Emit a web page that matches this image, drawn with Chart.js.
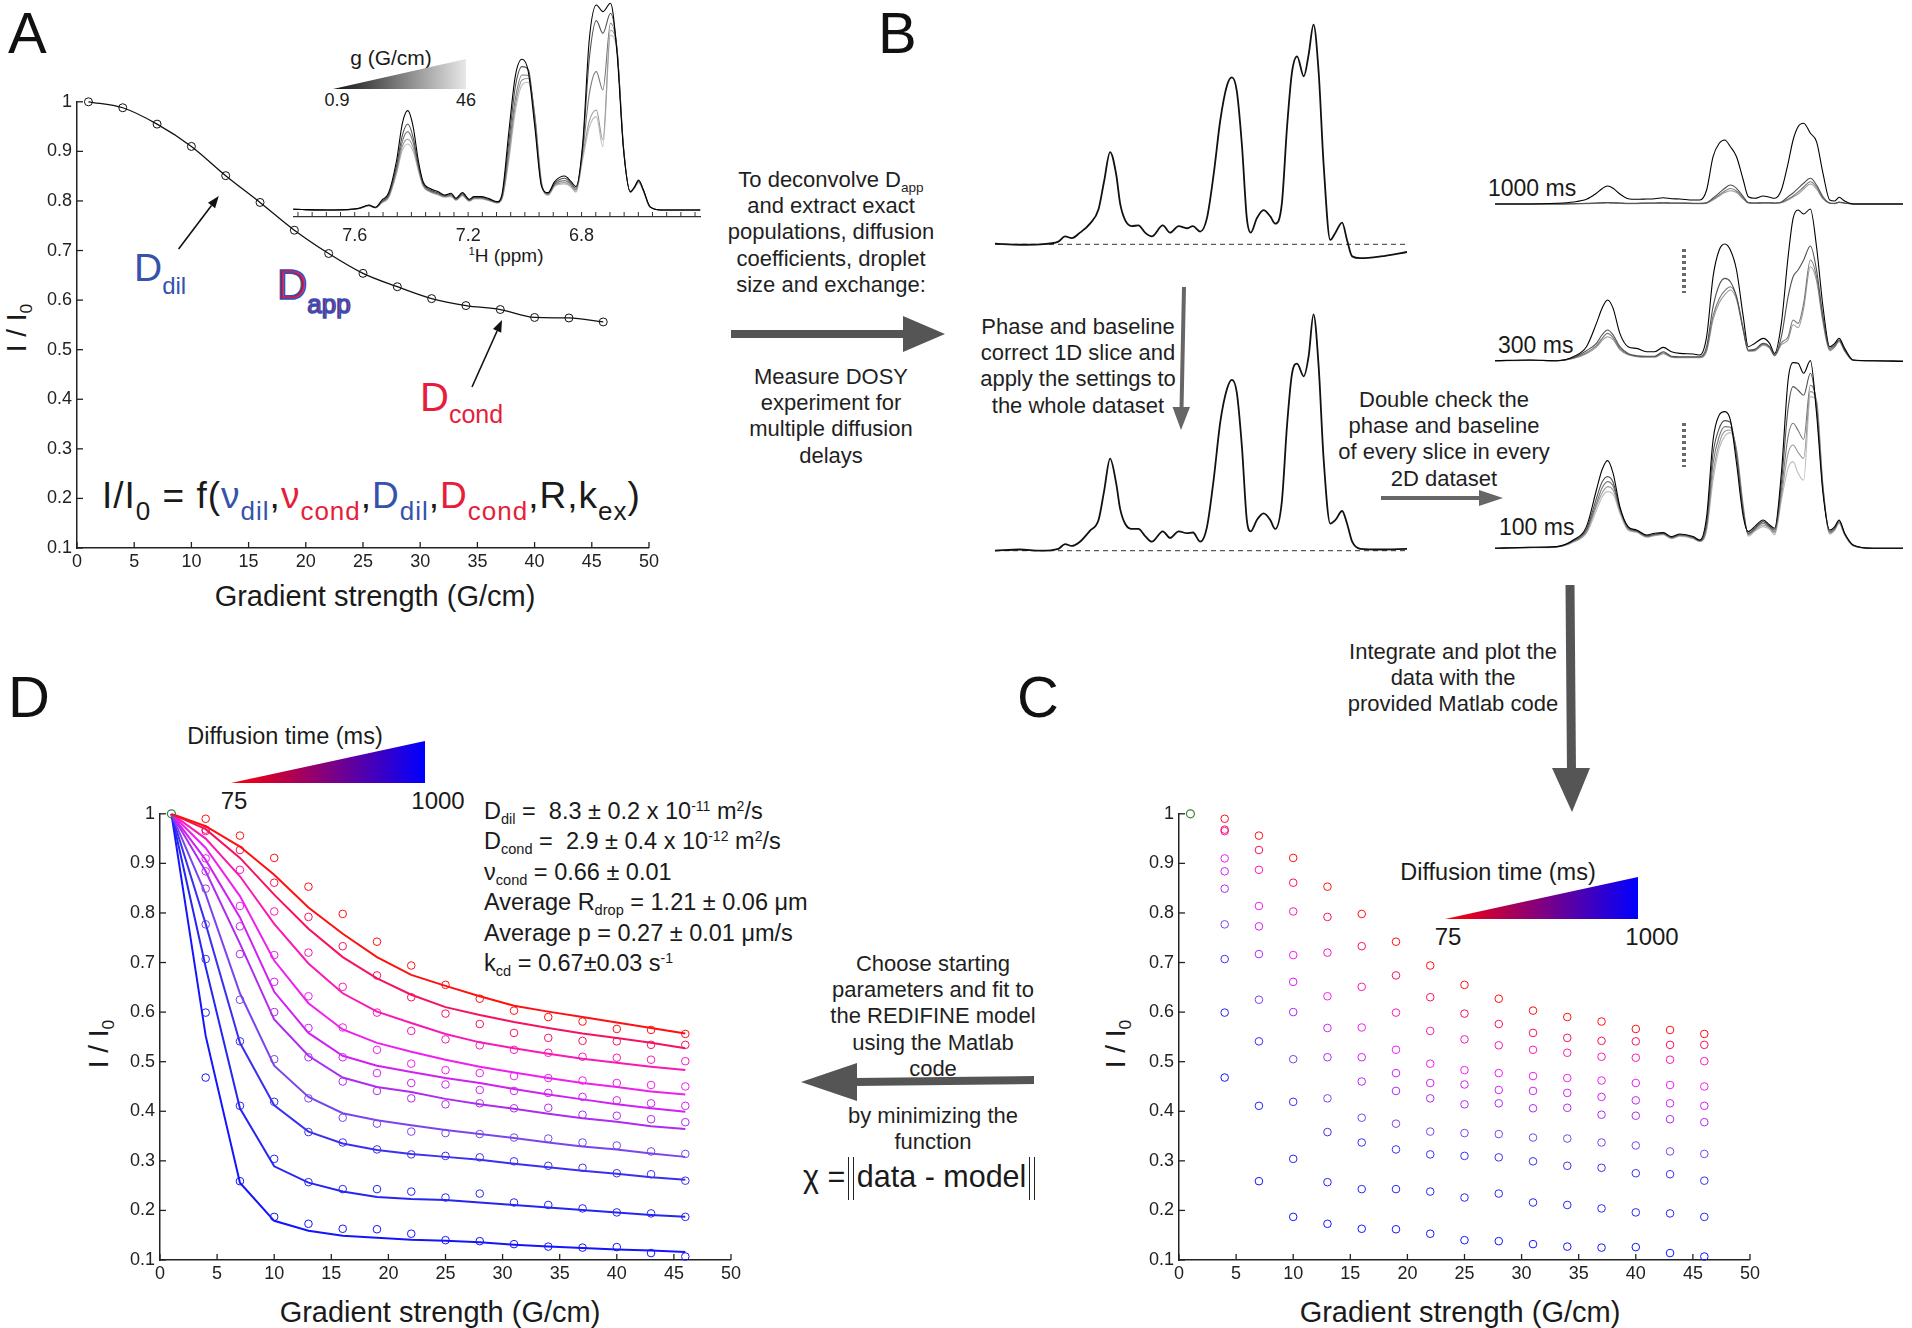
<!DOCTYPE html>
<html>
<head>
<meta charset="utf-8">
<title>DOSY workflow</title>
<script src="https://cdn.jsdelivr.net/npm/chart.js@4.4.1/dist/chart.umd.min.js"></script>
<style>
  html, body { margin: 0; padding: 0; background: #fff; }
  #page { position: relative; width: 1912px; height: 1328px; overflow: hidden;
          font-family: 'Liberation Sans', Arial, sans-serif; color: #1a1a1a; }
  #page canvas { position: absolute; }
  .t { position: absolute; white-space: nowrap; line-height: 1; }
  .c { transform: translate(-50%, -50%); }
  .rot { transform: translate(-50%, -50%) rotate(-90deg); }
  .blk { position: absolute; width: 320px; margin-left: -160px; text-align: center;
         font-size: 22px; line-height: 26.2px; white-space: nowrap; color: #1f1f1f; }
  .letter { position: absolute; font-size: 58px; line-height: 1; color: #111; }
  .sb { font-size: 0.62em; position: relative; top: 0.33em; line-height: 0; }
  .sp { font-size: 0.6em; position: relative; top: -0.6em; line-height: 0; }
  .eq { font-size: 26px; position: relative; top: 12px; line-height: 0; }
  .blue { color: #3552ad; }
  .red { color: #e61e3c; }
  .tri { position: absolute; clip-path: polygon(0 100%, 100% 0, 100% 100%); }
  .norm1 { display: inline-block; border-left: 1.6px solid #222; border-right: 1.6px solid #222; padding: 0 3.5px; margin-left: 3px; }
  .norm2 { display: inline-block; border-left: 1.6px solid #222; border-right: 1.6px solid #222;
           padding: 4px 3px 8px 3px; line-height: 1; }
  #arrows { position: absolute; left: 0; top: 0; }
</style>
</head>
<body>
<div id="page">
  <!-- panel letters -->
  <div class="letter" style="left:8px;top:4px">A</div>
  <div class="letter" style="left:878px;top:4px">B</div>
  <div class="letter" style="left:1017px;top:668px">C</div>
  <div class="letter" style="left:8px;top:668px">D</div>

  <!-- panel A text -->
  <div class="t rot" style="left:17px;top:328px;font-size:28px">I / I<span class="sb">0</span></div>
  <div class="t c" style="left:375px;top:596px;font-size:29px">Gradient strength (G/cm)</div>
  <div class="t blue" style="left:134px;top:248px;font-size:39px">D<span style="font-size:24px;position:relative;top:13px">dil</span></div>
  <div class="t" style="left:277px;top:264px;font-size:42px;color:#d61f3f;-webkit-text-stroke:1.6px #3b4db2">D<span style="font-size:26px;position:relative;top:14px">app</span></div>
  <div class="t red" style="left:420px;top:377px;font-size:40px">D<span style="font-size:25px;position:relative;top:12px">cond</span></div>
  <div class="t" style="left:102px;top:477px;font-size:37px;letter-spacing:1px">I/I<span class="eq">0</span> = f(<span class="blue">&nu;<span class="eq">dil</span></span>,<span class="red">&nu;<span class="eq">cond</span></span>,<span class="blue">D<span class="eq">dil</span></span>,<span class="red">D<span class="eq">cond</span></span>,R,k<span class="eq">ex</span>)</div>

  <!-- panel A inset text -->
  <div class="t c" style="left:391px;top:57px;font-size:21px">g (G/cm)</div>
  <div class="tri" style="left:333px;top:59px;width:133px;height:30px;background:linear-gradient(to right,#111,#e8e8e8)"></div>
  <div class="t c" style="left:337px;top:100px;font-size:18px">0.9</div>
  <div class="t c" style="left:466px;top:100px;font-size:18px">46</div>
  <div class="t c" style="left:506px;top:255px;font-size:19px"><span class="sp">1</span>H (ppm)</div>

  <!-- workflow text -->
  <div class="blk" style="left:831px;top:167px">To deconvolve D<span class="sb">app</span><br>and extract exact<br>populations, diffusion<br>coefficients, droplet<br>size and exchange:</div>
  <div class="blk" style="left:831px;top:364px">Measure DOSY<br>experiment for<br>multiple diffusion<br>delays</div>
  <div class="blk" style="left:1078px;top:314px">Phase and baseline<br>correct 1D slice and<br>apply the settings to<br>the whole dataset</div>
  <div class="blk" style="left:1444px;top:387px">Double check the<br>phase and baseline<br>of every slice in every<br>2D dataset</div>
  <div class="blk" style="left:1453px;top:639px">Integrate and plot the<br>data with the<br>provided Matlab code</div>
  <div class="blk" style="left:933px;top:951px">Choose starting<br>parameters and fit to<br>the REDIFINE model<br>using the Matlab<br>code</div>
  <div class="blk" style="left:933px;top:1103px">by minimizing the<br>function</div>
  <div class="t" style="left:803px;top:1157px;font-size:30.5px">&chi; =<span class="norm1"><span class="norm2">data - model</span></span></div>

  <div class="t" style="left:1488px;top:177px;font-size:23px">1000 ms</div>
  <div class="t" style="left:1498px;top:334px;font-size:23px">300 ms</div>
  <div class="t" style="left:1499px;top:516px;font-size:23px">100 ms</div>

  <!-- panel D text -->
  <div class="t c" style="left:285px;top:737px;font-size:23.5px">Diffusion time (ms)</div>
  <div class="tri" style="left:231px;top:741px;width:194px;height:42px;background:linear-gradient(to right,#ff0000,#800080,#0000ff)"></div>
  <div class="t c" style="left:234px;top:801px;font-size:24px">75</div>
  <div class="t c" style="left:438px;top:801px;font-size:24px">1000</div>
  <div class="t" style="left:484px;top:796px;font-size:23.5px;line-height:30.4px">
    D<span class="sb">dil</span> = &nbsp;8.3 &plusmn; 0.2 x 10<span class="sp">-11</span> m<span class="sp">2</span>/s<br>
    D<span class="sb">cond</span> = &nbsp;2.9 &plusmn; 0.4 x 10<span class="sp">-12</span> m<span class="sp">2</span>/s<br>
    &nu;<span class="sb">cond</span> = 0.66 &plusmn; 0.01<br>
    Average R<span class="sb">drop</span> = 1.21 &plusmn; 0.06 &mu;m<br>
    Average p = 0.27 &plusmn; 0.01 &mu;m/s<br>
    k<span class="sb">cd</span> = 0.67&plusmn;0.03 s<span class="sp">-1</span>
  </div>
  <div class="t rot" style="left:99px;top:1044px;font-size:28px">I / I<span class="sb">0</span></div>
  <div class="t c" style="left:440px;top:1312px;font-size:29px">Gradient strength (G/cm)</div>

  <!-- panel C text -->
  <div class="t c" style="left:1498px;top:873px;font-size:23.5px">Diffusion time (ms)</div>
  <div class="tri" style="left:1445px;top:877px;width:193px;height:42px;background:linear-gradient(to right,#ff0000,#800080,#0000ff)"></div>
  <div class="t c" style="left:1448px;top:937px;font-size:24px">75</div>
  <div class="t c" style="left:1652px;top:937px;font-size:24px">1000</div>
  <div class="t rot" style="left:1116px;top:1044px;font-size:28px">I / I<span class="sb">0</span></div>
  <div class="t c" style="left:1460px;top:1312px;font-size:29px">Gradient strength (G/cm)</div>

  <svg id="arrows" width="1912" height="1328">
    <g stroke="#111" stroke-width="1.6" fill="#111">
      <line x1="178.6" y1="249" x2="211.5" y2="205.6"/>
      <polygon points="218.8,196 215.1,208.3 208,202.8" stroke="none"/>
      <line x1="472" y1="387" x2="497.1" y2="331"/>
      <polygon points="502,320 501.2,332.8 493,329.1" stroke="none"/>
    </g>
    <g fill="#555" stroke="none">
      <rect x="731" y="330" width="175" height="8"/>
      <polygon points="903,316 945,334 903,352"/>
      <polygon points="1565.5,585 1574.5,585 1576,772 1567,772"/>
      <polygon points="1552,768 1590,768 1572,812"/>
      <polygon points="1034,1076 1034,1084 854,1086 854,1078"/>
      <polygon points="857,1063 857,1101 801,1082"/>
    </g>
    <g stroke="#666" stroke-width="4" fill="#666">
      <line x1="1184" y1="287" x2="1181.5" y2="409"/>
      <polygon points="1172.5,407 1190,407 1181,430" stroke="none"/>
      <line x1="1381" y1="498" x2="1481" y2="498"/>
      <polygon points="1479,490 1503,498 1479,506" stroke="none"/>
    </g>
    <g stroke="#6a6a6a" stroke-width="4" stroke-dasharray="3 3">
      <line x1="1684" y1="249" x2="1684" y2="293"/>
      <line x1="1684" y1="423" x2="1684" y2="467"/>
    </g>
  </svg>
</div>

<script>
// ---- decay data (I/I0 vs gradient strength, G/cm) ----
const gradient = [1, 4, 7, 10, 13, 16, 19, 22, 25, 28, 31, 34, 37, 40, 43, 46];
const decayA = [1.0, 0.988, 0.955, 0.910, 0.851, 0.797, 0.741, 0.694, 0.654, 0.627, 0.603, 0.589, 0.581, 0.565, 0.564, 0.556];

// measured points for the 10 diffusion times (75 ms ... 1000 ms), at gradient 4..46
const obs1 = [0.990, 0.956, 0.911, 0.853, 0.798, 0.742, 0.694, 0.655, 0.627, 0.603, 0.590, 0.581, 0.566, 0.564, 0.556];
const obs2 = [0.968, 0.927, 0.861, 0.792, 0.733, 0.674, 0.630, 0.597, 0.576, 0.558, 0.548, 0.542, 0.541, 0.534, 0.534];
const obs3 = [0.965, 0.887, 0.803, 0.720, 0.651, 0.599, 0.562, 0.545, 0.533, 0.524, 0.518, 0.510, 0.508, 0.504, 0.501];
const obs4 = [0.910, 0.814, 0.715, 0.632, 0.569, 0.524, 0.496, 0.483, 0.477, 0.471, 0.467, 0.462, 0.457, 0.453, 0.450];
const obs5 = [0.884, 0.773, 0.661, 0.568, 0.509, 0.477, 0.457, 0.454, 0.443, 0.441, 0.437, 0.429, 0.422, 0.416, 0.411];
const obs6 = [0.849, 0.717, 0.600, 0.509, 0.460, 0.441, 0.426, 0.414, 0.416, 0.406, 0.407, 0.393, 0.391, 0.384, 0.378];
const obs7 = [0.777, 0.625, 0.505, 0.426, 0.387, 0.375, 0.359, 0.356, 0.354, 0.347, 0.345, 0.337, 0.331, 0.319, 0.314];
const obs8 = [0.707, 0.541, 0.419, 0.358, 0.337, 0.323, 0.313, 0.310, 0.307, 0.299, 0.290, 0.286, 0.275, 0.273, 0.260];
const obs9 = [0.599, 0.411, 0.304, 0.257, 0.243, 0.243, 0.238, 0.226, 0.234, 0.216, 0.211, 0.204, 0.196, 0.194, 0.187];
const obs10 = [0.468, 0.259, 0.187, 0.173, 0.163, 0.162, 0.153, 0.140, 0.138, 0.132, 0.127, 0.125, 0.126, 0.114, 0.107];

// model fit curves (gradient 1..46)
const fit1 = [1, 0.975, 0.934, 0.877, 0.811, 0.758, 0.711, 0.675, 0.653, 0.632, 0.613, 0.601, 0.590, 0.579, 0.568, 0.557];
const fit2 = [1, 0.969, 0.911, 0.837, 0.768, 0.711, 0.668, 0.635, 0.610, 0.594, 0.580, 0.568, 0.557, 0.548, 0.538, 0.527];
const fit3 = [1, 0.950, 0.874, 0.778, 0.698, 0.638, 0.601, 0.578, 0.556, 0.539, 0.527, 0.516, 0.506, 0.498, 0.490, 0.483];
const fit4 = [1, 0.931, 0.834, 0.704, 0.618, 0.565, 0.538, 0.520, 0.504, 0.490, 0.478, 0.467, 0.457, 0.449, 0.440, 0.434];
const fit5 = [1, 0.907, 0.791, 0.641, 0.558, 0.512, 0.492, 0.479, 0.467, 0.457, 0.445, 0.434, 0.424, 0.414, 0.406, 0.399];
const fit6 = [1, 0.884, 0.738, 0.585, 0.512, 0.468, 0.449, 0.439, 0.425, 0.414, 0.405, 0.395, 0.386, 0.379, 0.370, 0.364];
const fit7 = [1, 0.838, 0.638, 0.492, 0.429, 0.396, 0.382, 0.372, 0.362, 0.354, 0.346, 0.337, 0.329, 0.323, 0.315, 0.308];
const fit8 = [1, 0.778, 0.538, 0.412, 0.359, 0.335, 0.322, 0.314, 0.308, 0.302, 0.294, 0.287, 0.280, 0.274, 0.267, 0.262];
const fit9 = [1, 0.691, 0.406, 0.289, 0.256, 0.238, 0.227, 0.223, 0.221, 0.216, 0.211, 0.206, 0.201, 0.196, 0.191, 0.187];
const fit10 = [1, 0.552, 0.256, 0.179, 0.159, 0.149, 0.145, 0.141, 0.139, 0.136, 0.131, 0.127, 0.124, 0.121, 0.119, 0.116];

const observed = [obs1, obs2, obs3, obs4, obs5, obs6, obs7, obs8, obs9, obs10];
const fitted = [fit1, fit2, fit3, fit4, fit5, fit6, fit7, fit8, fit9, fit10];
const seriesColors = ['#ff1010', '#f5135d', '#f81ab4', '#ef1ff0', '#d021f5', '#ae2bf0', '#7a46ec', '#3b30f0', '#2626f2', '#1414ff'];

// axis ticks
const xTickVals = [0, 5, 10, 15, 20, 25, 30, 35, 40, 45, 50];
const xTickLabels = ['0', '5', '10', '15', '20', '25', '30', '35', '40', '45', '50'];
const yTickVals = [0.1, 0.2, 0.3, 0.4, 0.5, 0.6, 0.7, 0.8, 0.9, 1];
const yTickLabels = ['0.1', '0.2', '0.3', '0.4', '0.5', '0.6', '0.7', '0.8', '0.9', '1'];
const ppmLabelled = [7.6, 7.2, 6.8];

// ---- 1H spectra (ppm, intensity) ----
// inset of panel A: 5 gradient steps, 0.9 -> 46 G/cm
const ppmInset = [7.817, 7.678, 7.585, 7.550, 7.527, 7.504, 7.481, 7.452, 7.432, 7.413, 7.394, 7.376, 7.359, 7.336, 7.307, 7.283, 7.260, 7.243, 7.220, 7.196, 7.179, 7.156, 7.127, 7.098, 7.080, 7.057, 7.034, 7.010, 6.988, 6.965, 6.941, 6.918, 6.895, 6.860, 6.837, 6.820, 6.796, 6.773, 6.748, 6.725, 6.698, 6.675, 6.652, 6.628, 6.613, 6.599, 6.582, 6.559, 6.518, 6.381];
const inset1 = [0, -0.7, 1, 4.3, 2, 9.3, 16, 49.3, 86, 98.7, 82.7, 49.3, 27.7, 21, 17.7, 14.3, 16, 11, 16.7, 10, 12.7, 12.7, 10.7, 7.7, 16, 76, 132.7, 150, 137.7, 82.7, 22.7, 16.7, 27.7, 33.3, 27.7, 22.7, 66, 169.3, 204.3, 197.7, 206, 156, 59.3, 17.7, 22.7, 29.3, 19.3, 2.7, -0.7, -0.7];
const inset2 = [0, -0.7, 0.9, 4, 1.8, 8, 14, 44, 74, 85.3, 72, 45, 26, 19.5, 16.5, 13.5, 15, 10.3, 15.5, 9.3, 12, 12, 10, 7.2, 14, 66, 122, 142.7, 140, 88, 24, 16, 26, 31, 26, 21, 62, 150, 188.7, 176, 196, 160, 60, 17.5, 22.3, 28.7, 19, 2.6, -0.7, -0.7];
const inset3 = [0, -0.7, 0.8, 3.8, 1.6, 7.5, 13, 41, 68, 77.7, 67, 43, 25, 18.5, 15.5, 13, 14, 9.7, 14.5, 8.8, 11.3, 11.3, 9.4, 6.8, 12.5, 58, 110, 134.3, 134, 92, 25, 15.3, 25, 28.7, 24.7, 19.5, 58, 115, 137.7, 119.3, 186, 160, 61, 17.2, 22, 28, 18.7, 2.5, -0.7, -0.7];
const inset4 = [0, -0.7, 0.8, 3.6, 1.5, 7, 12, 38, 63, 70, 62, 41, 24, 18, 15, 12.5, 13.3, 9.3, 14, 8.4, 10.8, 10.8, 9, 6.5, 11.5, 52, 103, 129.3, 131, 94, 26, 14.7, 24, 26.7, 23.3, 18, 54, 88, 99.3, 69.3, 179, 160, 62, 17, 21.8, 27.3, 18.3, 2.4, -0.7, -0.7];
const inset5 = [0, -0.7, 0.7, 3.4, 1.4, 6.5, 11, 36, 59, 65.3, 58, 39, 23, 17.5, 14.5, 12, 12.7, 9, 13.5, 8, 10.3, 10.3, 8.6, 6.2, 10.8, 48, 97, 124.3, 127, 95, 27, 14, 23, 25.3, 22, 17, 50, 82, 92.7, 62.7, 174, 158, 62, 16.8, 21.5, 26.7, 18, 2.3, -0.7, -0.7];

// panel B: first slice before / after phase and baseline correction
const ppmSlice = [7.778, 7.696, 7.630, 7.570, 7.548, 7.526, 7.499, 7.466, 7.438, 7.420, 7.400, 7.380, 7.367, 7.351, 7.329, 7.307, 7.285, 7.263, 7.227, 7.203, 7.175, 7.148, 7.128, 7.104, 7.082, 7.060, 7.038, 7.016, 7.000, 6.984, 6.967, 6.951, 6.938, 6.918, 6.896, 6.874, 6.858, 6.836, 6.819, 6.803, 6.786, 6.764, 6.748, 6.732, 6.715, 6.699, 6.677, 6.660, 6.638, 6.622, 6.605, 6.578, 6.512, 6.425];
const sliceRaw = [0.3, -0.2, 0, 1.2, 3.6, 2.8, 5.3, 9.4, 16, 28.5, 42, 31.8, 18.5, 11.1, 8.3, 8.6, 5.3, 3.6, 8.6, 5.3, 8.3, 7.3, 8.3, 5.8, 11.9, 31.8, 56.6, 72.4, 76, 69.9, 45, 11.9, 5.3, 11.9, 15.6, 12.7, 9.4, 18.5, 53.3, 78.1, 85.6, 76.5, 86.4, 100, 78.1, 36.8, 2, 5.3, 9.9, 2, -5.5, -6.3, -5.5, -3.5];
const sliceCorrected = [0, 0.5, 0, 0.8, 2.8, 2, 3.8, 8.5, 13, 25, 39, 28.5, 17.7, 11.5, 9.2, 9.2, 6.2, 3.8, 8.2, 5.4, 8.2, 7.4, 7.7, 3.8, 10, 30, 54.6, 68.5, 72.3, 67, 43.8, 13, 8.2, 13, 15.8, 13, 9.2, 20.8, 53, 74.6, 79.2, 73.8, 82.3, 100, 77.7, 39.2, 11.5, 13, 16.8, 11.5, 3.8, 0.8, 0.5, 0.8];

// panel B: stacked datasets for three diffusion delays
const ppmStack = [7.784, 7.665, 7.574, 7.517, 7.472, 7.438, 7.419, 7.400, 7.381, 7.358, 7.330, 7.301, 7.267, 7.239, 7.210, 7.182, 7.153, 7.108, 7.085, 7.062, 7.040, 7.019, 7.000, 6.981, 6.960, 6.937, 6.920, 6.898, 6.869, 6.847, 6.830, 6.807, 6.784, 6.767, 6.750, 6.731, 6.708, 6.687, 6.665, 6.642, 6.625, 6.610, 6.591, 6.562, 6.494, 6.392];
const ms1000a = [0, 0, 0.7, 2, 4.7, 10.7, 15.3, 18, 15.7, 10, 5.3, 4.7, 5, 5.3, 6.3, 5.3, 5, 4, 4, 14, 47.3, 60.7, 64, 57.3, 47.3, 24, 7.3, 5.7, 8, 6.7, 5.7, 14, 40.7, 64, 77.3, 80.7, 70.7, 62.3, 30.7, 4, 3, 6.7, 3, 0, 0, 0];
const ms1000b = [0, 0, 0, 0.3, 0.7, 1, 1.3, 1.5, 1.3, 1, 0.7, 0.7, 1, 1, 1.3, 1, 1, 0.7, 0.7, 1.3, 6, 11, 15.7, 19, 15.7, 7.3, 1.5, 1, 1.3, 1.3, 1, 2, 7.3, 11, 15.7, 20.7, 25.7, 19, 7.3, 1, 0.7, 2, 1, 0, 0, 0];
const ms1000c = [0, 0, 0, 0.2, 0.5, 0.8, 1, 1.2, 1, 0.8, 0.5, 0.5, 0.8, 0.8, 1, 0.8, 0.8, 0.5, 0.5, 1, 5, 9, 13, 15.5, 13, 6, 1.2, 0.8, 1, 1, 0.8, 1.5, 5, 8, 12, 17, 22.3, 17, 6, 0.8, 0.5, 1.8, 0.8, 0, 0, 0];
const ms1000d = [0, 0, 0, 0.2, 0.4, 0.7, 0.9, 1, 0.9, 0.7, 0.4, 0.4, 0.7, 0.7, 0.9, 0.7, 0.7, 0.4, 0.4, 0.9, 4, 8, 11.5, 13.3, 11.5, 5, 1, 0.7, 0.9, 0.9, 0.7, 1.3, 4, 7, 10, 15, 20, 15, 5, 0.7, 0.4, 1.6, 0.7, 0, 0, 0];
const ms300a = [0, 0.7, 0, 4, 14, 37.3, 52.3, 60.7, 52.3, 27.3, 14, 12.3, 9, 9, 13.3, 9, 7.3, 6.7, 5.7, 24, 84, 110.7, 116.7, 110.7, 90.7, 44, 14, 17.3, 22.3, 17.3, 7.3, 37.3, 104, 142.3, 150.7, 146.7, 151.7, 114, 54, 14, 17.3, 22.3, 12.3, 0.7, 0, -0.7];
const ms300b = [0, 0.5, 0, 3, 10, 17.3, 25.7, 30.7, 25.7, 14, 7.3, 5, 4.5, 4.5, 9, 4.5, 4, 4, 4, 14, 54, 75.7, 82.3, 79, 64, 30.7, 10.7, 11.3, 17.3, 14, 5.7, 24, 64, 84, 90.7, 100.7, 114.7, 90.7, 44, 12.3, 15.7, 20.7, 10.7, 0.5, 0, -0.5];
const ms300c = [0, 0.4, 0, 2.5, 8, 15, 22, 27.3, 23, 12, 6.5, 4.5, 4, 4, 8, 4, 3.5, 3.5, 3.5, 11, 45, 62, 70, 74, 64, 32, 10, 10.5, 16.5, 13.3, 5.2, 18, 24, 40.7, 37.3, 57.3, 100.7, 84, 40.7, 11, 14.5, 20, 10, 0.4, 0, -0.5];
const ms300d = [0, 0.3, 0, 2.2, 7, 13.5, 20, 24, 21, 11, 6, 4, 3.5, 3.5, 7, 3.5, 3, 3, 3, 9.5, 41, 58, 66, 70.7, 61, 30, 9.5, 9.8, 15.5, 12.5, 4.8, 16, 21, 36, 33, 52, 94, 80, 38, 10, 13.5, 19, 9.5, 0.3, 0, -0.4];
const ms100a = [0, 1, 1.7, 8.3, 21.7, 58.3, 78.3, 87.7, 75, 41.7, 21.7, 18.3, 13.3, 15, 15.7, 11.7, 14.3, 11.7, 8.3, 31.7, 108.3, 133.3, 136.7, 128.3, 85, 31.7, 16.7, 21.7, 28.3, 23.3, 20, 75, 168.3, 185.7, 185, 175, 187.7, 135, 55, 18.3, 21.7, 28.3, 15, 3.3, 0, 0];
const ms100b = [0, 0.9, 1.5, 7.5, 19, 50, 66, 71.7, 66, 40, 21, 17.5, 12.5, 14, 15, 11, 13.5, 11, 7.8, 26, 95, 120, 127.7, 126, 92, 36, 15, 20, 26.7, 22, 18.3, 65, 140, 161.7, 158, 153, 175, 140, 58, 17, 20.5, 27.5, 14.5, 3, 0, 0];
const ms100c = [0, 0.8, 1.4, 7, 17.5, 45, 60, 66.7, 62, 39, 20, 17, 12, 13.5, 14.5, 10.5, 13, 10.5, 7.4, 22, 85, 112, 121.7, 121, 96, 39, 14, 19, 25, 21, 16.7, 58, 112, 125, 118, 109, 163, 145, 60, 16, 19.5, 26.5, 14, 2.8, 0, 0];
const ms100d = [0, 0.7, 1.3, 6.5, 16, 42, 55, 61.7, 58, 37, 19, 16.5, 11.5, 13, 14, 10, 12.5, 10, 7, 20, 75, 105, 117, 118.3, 98, 41, 13, 18, 23.3, 20, 15, 52, 95, 103.3, 96, 90, 156.7, 147, 62, 15, 18.5, 25.5, 13.5, 2.6, 0, 0];
const ms100e = [0, 0.6, 1.2, 6, 15, 38, 51, 56.7, 54, 35, 18, 16, 11, 12.5, 13.5, 9.5, 12, 9.5, 6.7, 18, 68, 100, 112, 115.7, 99, 43, 12, 17, 21.7, 19, 13.3, 48, 80, 86.7, 75, 68, 151.7, 148, 63, 14, 18, 25, 13, 2.4, 0, 0];

const grays = ['#000000', '#505050', '#787878', '#9a9a9a', '#bcbcbc'];

// ---------------------------------------------------------------
Chart.defaults.font.family = "'Liberation Sans', Arial, sans-serif";
Chart.defaults.color = '#222';
const page = document.getElementById('page');

// ticks drawn inward from the axis line (MATLAB look)
const inTicks = {
  id: 'inTicks',
  afterDatasetsDraw(chart, args, opts) {
    const ctx = chart.ctx;
    ctx.save();
    ctx.strokeStyle = opts.color || '#222';
    ctx.lineWidth = opts.width || 1.2;
    Object.values(chart.scales).forEach(s => {
      if (!s.options.display) return;
      s.ticks.forEach((t, i) => {
        const p = s.getPixelForTick(i);
        ctx.beginPath();
        if (s.isHorizontal()) { ctx.moveTo(p, s.top); ctx.lineTo(p, s.top - opts.len); }
        else { ctx.moveTo(s.right, p); ctx.lineTo(s.right + opts.len, p); }
        ctx.stroke();
      });
    });
    ctx.restore();
  }
};

function addCanvas(left, top, w, h) {
  const c = document.createElement('canvas');
  c.width = w; c.height = h;
  c.style.left = left + 'px'; c.style.top = top + 'px';
  c.style.width = w + 'px'; c.style.height = h + 'px';
  page.insertBefore(c, document.getElementById('arrows'));
  return c;
}
const pts = (xs, ys) => xs.map((x, i) => ({ x: x, y: ys[i] }));
const quiet = { legend: { display: false }, tooltip: { enabled: false } };

// spectrum block, baseline at pixel "base", k pixels per intensity unit
function spectrum(left, top, w, h, base, k, ppm, traces, colors, lw, dashed) {
  const sets = traces.map((ys, i) => ({
    data: pts(ppm, ys), borderColor: colors[i], borderWidth: lw,
    pointRadius: 0, cubicInterpolationMode: 'monotone', fill: false
  }));
  if (dashed) {
    sets.push({ data: [{ x: ppm[0], y: 0 }, { x: ppm[ppm.length - 1], y: 0 }],
      borderColor: '#333', borderWidth: 1, borderDash: [5, 4], pointRadius: 0 });
  }
  new Chart(addCanvas(left, top, w, h), {
    type: 'line',
    data: { datasets: sets },
    options: {
      responsive: false, animation: false, events: [],
      layout: { padding: 0 }, plugins: quiet,
      scales: {
        x: { type: 'linear', display: false, reverse: true, min: ppm[ppm.length - 1], max: ppm[0] },
        y: { display: false, min: -(top + h - base) / k, max: (base - top) / k }
      }
    }
  });
}

function decayAxes(xAxisH, yAxisW, tickSize) {
  return {
    x: {
      type: 'linear', min: 0, max: 50,
      afterFit: s => { s.height = xAxisH; },
      afterBuildTicks: s => { s.ticks = xTickVals.map(v => ({ value: v })); },
      ticks: { callback: (v, i) => xTickLabels[i], font: { size: tickSize }, padding: 3, maxRotation: 0, autoSkip: false },
      grid: { display: false, drawTicks: false },
      border: { display: true, color: '#222', width: 1.5 }
    },
    y: {
      min: 0.1, max: 1,
      afterFit: s => { s.width = yAxisW; },
      afterBuildTicks: s => { s.ticks = yTickVals.map(v => ({ value: v })); },
      ticks: { callback: (v, i) => yTickLabels[i], font: { size: tickSize }, padding: 5, autoSkip: false },
      grid: { display: false, drawTicks: false },
      border: { display: true, color: '#222', width: 1.5 }
    }
  };
}

// ---- Panel A: decay curve ----
new Chart(addCanvas(0, 86, 662, 530), {
  type: 'line',
  data: { datasets: [{
    data: pts(gradient, decayA), borderColor: '#111', borderWidth: 1.3,
    pointRadius: 4, pointBorderWidth: 1, pointBorderColor: '#111', pointBackgroundColor: 'rgba(0,0,0,0)',
    cubicInterpolationMode: 'monotone', clip: false
  }] },
  options: {
    responsive: false, animation: false, events: [],
    layout: { padding: { top: 10, right: 13, left: 0, bottom: 0 } },
    plugins: Object.assign({ inTicks: { len: 6, color: '#222', width: 1.3 } }, quiet),
    scales: decayAxes(68, 77, 18)
  },
  plugins: [inTicks]
});

// ---- Panel A inset: 1H spectra for increasing gradient ----
const insetTraces = [inset1, inset2, inset3, inset4, inset5];
new Chart(addCanvas(290, 0, 413, 257), {
  type: 'line',
  data: { datasets: insetTraces.map((ys, i) => ({
    data: pts(ppmInset, ys), borderColor: grays[i], borderWidth: 1.1,
    pointRadius: 0, cubicInterpolationMode: 'monotone'
  })) },
  options: {
    responsive: false, animation: false, events: [],
    layout: { padding: 0 },
    plugins: Object.assign({ inTicks: { len: 5, color: '#333', width: 1 } }, quiet),
    scales: {
      x: {
        type: 'linear', reverse: true, min: 6.381, max: 7.817,
        afterFit: s => { s.height = 40; },
        ticks: {
          stepSize: 0.05, includeBounds: false, autoSkip: false, maxRotation: 0, padding: 8,
          font: { size: 18 },
          callback: v => { const m = ppmLabelled.find(p => Math.abs(p - v) < 0.001); return m ? m.toFixed(1) : ''; }
        },
        grid: { display: false, drawTicks: false },
        border: { display: true, color: '#333', width: 1.2 }
      },
      y: { display: false, min: -7.7, max: 209.3 }
    }
  },
  plugins: [inTicks]
});

// ---- Panel B spectra ----
spectrum(995, 20, 412, 242, 244.3, 2.196, ppmSlice, [sliceRaw], ['#111'], 1.8, true);
spectrum(995, 308, 412, 250, 550.7, 2.363, ppmSlice, [sliceCorrected], ['#111'], 1.8, true);
spectrum(1495, 118, 408, 92, 204, 1, ppmStack, [ms1000a, ms1000b, ms1000c, ms1000d], grays, 1.1, false);
spectrum(1495, 205, 408, 160, 360.7, 1, ppmStack, [ms300a, ms300b, ms300c, ms300d], grays, 1.1, false);
spectrum(1495, 356, 408, 196, 548.3, 1, ppmStack, [ms100a, ms100b, ms100c, ms100d, ms100e], grays, 1.1, false);

// ---- Panels D and C: multi-delay decays ----
const origin = { data: [{ x: 1, y: 1 }], showLine: false, pointRadius: 4, pointBorderWidth: 1.2,
  pointBorderColor: '#3f7f3a', pointBackgroundColor: 'rgba(0,0,0,0)', clip: false };
function circleSets() {
  return observed.map((ys, i) => ({
    data: pts(gradient.slice(1), ys), showLine: false,
    pointRadius: 3.8, pointBorderWidth: 1, pointBorderColor: seriesColors[i],
    pointBackgroundColor: 'rgba(0,0,0,0)', clip: false
  }));
}
function decayOptions() {
  return {
    responsive: false, animation: false, events: [],
    layout: { padding: { top: 10, right: 12, left: 0, bottom: 0 } },
    plugins: Object.assign({ inTicks: { len: 6, color: '#222', width: 1.3 } }, quiet),
    scales: decayAxes(40, 80, 18)
  };
}
const lineSets = fitted.map((ys, i) => ({
  data: pts(gradient, ys), borderColor: seriesColors[i], borderWidth: 2,
  pointRadius: 0, tension: 0, showLine: true
}));

new Chart(addCanvas(80, 798, 664, 502), {
  type: 'scatter',
  data: { datasets: [origin].concat(lineSets, circleSets()) },
  options: decayOptions(),
  plugins: [inTicks]
});

new Chart(addCanvas(1099, 798, 664, 502), {
  type: 'scatter',
  data: { datasets: [Object.assign({}, origin)].concat(circleSets()) },
  options: decayOptions(),
  plugins: [inTicks]
});
</script>
</body>
</html>
